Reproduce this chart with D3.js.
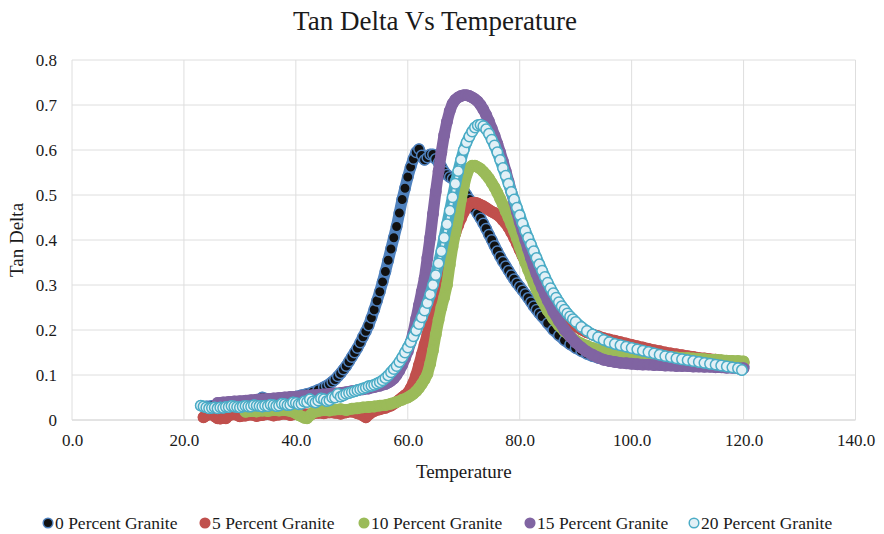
<!DOCTYPE html>
<html>
<head>
<meta charset="utf-8">
<script src="https://cdn.jsdelivr.net/npm/d3@7"></script>
<style>
  body { margin: 0; background: #fff; }
  text { font-family: "Liberation Serif", "Times New Roman", serif; fill: #1a1a1a; }
</style>
</head>
<body>
<div id="chart"></div>
<script>
// [temperature, tan delta]
const granite0 = [[24,0.030],[25,0.031],[26,0.030],[27,0.033],[28,0.034],[29,0.035],[30,0.036],[31,0.037],[32,0.039],[33,0.042],[34,0.050],[35,0.046],[36,0.045],[37,0.046],[38,0.048],[39,0.050],[40,0.052],[41,0.055],[42,0.058],[43,0.062],[44,0.067],[45,0.073],[45.5,0.076],[46,0.080],[46.5,0.085],[47,0.090],[47.5,0.097],[48,0.104],[48.5,0.112],[49,0.120],[49.5,0.130],[50,0.140],[50.5,0.150],[51,0.160],[51.5,0.172],[52,0.185],[52.5,0.197],[53,0.210],[53.5,0.227],[54,0.245],[54.5,0.265],[55,0.285],[55.5,0.307],[56,0.330],[56.5,0.355],[57,0.380],[57.5,0.405],[58,0.430],[58.5,0.460],[59,0.490],[59.5,0.515],[60,0.540],[60.5,0.562],[61,0.580],[61.5,0.595],[62,0.602],[62.5,0.588],[63,0.578],[63.5,0.583],[64,0.590],[64.5,0.590],[65,0.580],[65.5,0.572],[66,0.563],[66.5,0.552],[67,0.545],[67.5,0.540],[68,0.536],[68.5,0.530],[69,0.524],[69.5,0.518],[70,0.510],[70.5,0.500],[71,0.490],[71.5,0.479],[72,0.468],[72.5,0.458],[73,0.448],[73.5,0.437],[74,0.425],[74.5,0.412],[75,0.400],[75.5,0.387],[76,0.375],[76.5,0.363],[77,0.352],[77.5,0.342],[78,0.332],[78.5,0.322],[79,0.313],[79.5,0.304],[80,0.296],[80.5,0.288],[81,0.280],[81.5,0.271],[82,0.262],[82.5,0.253],[83,0.245],[83.5,0.237],[84,0.230],[85,0.215],[86,0.200],[87,0.188],[88,0.177],[89,0.168],[90,0.160],[91,0.153],[92,0.147],[93,0.142],[94,0.138],[95,0.135],[96,0.132],[97,0.131],[98,0.130],[99,0.129],[100,0.128],[102,0.126],[104,0.125],[106,0.124],[108,0.123],[110,0.122],[112,0.121],[114,0.120],[116,0.120],[118,0.119],[120,0.119]];

const granite5 = [[23.5,0.006],[24,0.010],[24.5,0.013],[25,0.014],[25.5,0.008],[26,0.004],[26.5,0.003],[27,0.005],[27.5,0.004],[28,0.010],[29,0.013],[30,0.008],[31,0.010],[32,0.012],[33,0.009],[34,0.011],[35,0.013],[36,0.010],[37,0.012],[38,0.014],[39,0.011],[40,0.013],[41,0.015],[42,0.012],[43,0.014],[44,0.016],[45,0.015],[46,0.017],[47,0.016],[48,0.014],[49,0.017],[50,0.019],[51,0.015],[52,0.010],[52.5,0.006],[53,0.012],[54,0.020],[55,0.024],[56,0.027],[57,0.032],[57.5,0.036],[58,0.040],[58.5,0.045],[59,0.050],[59.5,0.055],[60,0.060],[60.5,0.070],[61,0.083],[61.5,0.100],[62,0.122],[62.5,0.145],[63,0.168],[63.5,0.190],[64,0.215],[64.5,0.240],[65,0.265],[65.5,0.287],[66,0.310],[66.5,0.335],[67,0.357],[67.5,0.378],[68,0.397],[68.5,0.415],[69,0.433],[69.5,0.448],[70,0.462],[70.5,0.473],[71,0.480],[71.5,0.483],[72,0.483],[72.5,0.481],[73,0.478],[73.5,0.475],[74,0.471],[74.5,0.467],[75,0.463],[75.5,0.460],[76,0.456],[76.5,0.451],[77,0.444],[77.5,0.437],[78,0.428],[78.5,0.417],[79,0.405],[79.5,0.392],[80,0.378],[80.5,0.365],[81,0.352],[81.5,0.340],[82,0.328],[82.5,0.318],[83,0.308],[83.5,0.298],[84,0.289],[85,0.270],[86,0.253],[87,0.239],[88,0.227],[89,0.217],[90,0.208],[91,0.201],[92,0.195],[93,0.190],[94,0.186],[95,0.182],[96,0.179],[97,0.176],[98,0.173],[99,0.170],[100,0.167],[101,0.164],[102,0.161],[103,0.158],[104,0.155],[105,0.153],[106,0.150],[107,0.148],[108,0.146],[109,0.144],[110,0.142],[111,0.140],[112,0.138],[113,0.137],[114,0.135],[115,0.134],[116,0.132],[117,0.131],[118,0.130],[119,0.128],[120,0.127]];

const granite10 = [[31,0.018],[32,0.020],[33,0.019],[34,0.021],[35,0.020],[36,0.022],[37,0.021],[38,0.022],[39,0.020],[40,0.015],[40.5,0.011],[41,0.008],[41.5,0.005],[42,0.004],[42.5,0.010],[43,0.016],[44,0.020],[45,0.022],[46,0.021],[47,0.023],[48,0.024],[49,0.022],[50,0.025],[51,0.026],[52,0.028],[53,0.029],[54,0.030],[55,0.032],[56,0.033],[57,0.036],[58,0.040],[59,0.045],[60,0.050],[60.5,0.054],[61,0.058],[61.5,0.064],[62,0.071],[62.5,0.080],[63,0.090],[63.5,0.102],[64,0.125],[64.5,0.155],[65,0.190],[65.5,0.222],[66,0.250],[66.5,0.273],[67,0.300],[67.5,0.345],[68,0.385],[68.5,0.417],[69,0.450],[69.5,0.490],[70,0.520],[70.5,0.545],[71,0.560],[71.5,0.565],[72,0.565],[72.5,0.562],[73,0.558],[73.5,0.552],[74,0.545],[74.5,0.537],[75,0.527],[75.5,0.517],[76,0.505],[76.5,0.492],[77,0.478],[77.5,0.464],[78,0.450],[78.5,0.435],[79,0.420],[79.5,0.403],[80,0.385],[80.5,0.367],[81,0.350],[81.5,0.334],[82,0.318],[82.5,0.304],[83,0.290],[83.5,0.277],[84,0.265],[85,0.243],[86,0.225],[87,0.210],[88,0.197],[89,0.186],[90,0.177],[91,0.170],[92,0.165],[93,0.160],[94,0.157],[95,0.154],[96,0.152],[97,0.150],[98,0.149],[99,0.148],[100,0.147],[101,0.146],[102,0.145],[103,0.144],[104,0.143],[105,0.142],[106,0.141],[107,0.140],[108,0.139],[109,0.138],[110,0.138],[111,0.137],[112,0.136],[113,0.135],[114,0.134],[115,0.134],[116,0.133],[117,0.132],[118,0.131],[119,0.131],[120,0.130]];

const granite15 = [[26,0.038],[27,0.039],[28,0.040],[29,0.041],[30,0.042],[31,0.043],[32,0.044],[33,0.045],[34,0.046],[35,0.047],[36,0.048],[37,0.049],[38,0.050],[39,0.051],[40,0.052],[41,0.053],[42,0.054],[43,0.055],[44,0.056],[45,0.057],[46,0.058],[47,0.059],[48,0.060],[49,0.062],[50,0.064],[51,0.066],[52,0.068],[53,0.070],[54,0.073],[55,0.076],[56,0.080],[56.5,0.083],[57,0.087],[57.5,0.092],[58,0.100],[58.5,0.110],[59,0.122],[59.5,0.137],[60,0.153],[60.5,0.172],[61,0.195],[61.5,0.225],[62,0.255],[62.5,0.285],[63,0.315],[63.5,0.360],[64,0.405],[64.5,0.458],[65,0.508],[65.5,0.553],[66,0.595],[66.5,0.633],[67,0.663],[67.5,0.687],[68,0.703],[68.5,0.712],[69,0.717],[69.5,0.720],[70,0.722],[70.5,0.722],[71,0.720],[71.5,0.717],[72,0.713],[72.5,0.708],[73,0.700],[73.5,0.690],[74,0.678],[74.5,0.664],[75,0.648],[75.5,0.632],[76,0.614],[76.5,0.595],[77,0.575],[77.5,0.553],[78,0.530],[78.5,0.507],[79,0.485],[79.5,0.462],[80,0.440],[80.5,0.420],[81,0.400],[81.5,0.380],[82,0.360],[82.5,0.342],[83,0.325],[83.5,0.309],[84,0.294],[84.5,0.280],[85,0.266],[86,0.241],[87,0.220],[88,0.201],[89,0.186],[90,0.172],[91,0.161],[92,0.152],[93,0.145],[94,0.139],[95,0.134],[96,0.131],[97,0.129],[98,0.127],[99,0.126],[100,0.125],[101,0.124],[102,0.123],[103,0.123],[104,0.122],[105,0.122],[106,0.121],[107,0.121],[108,0.120],[109,0.120],[110,0.120],[111,0.119],[112,0.119],[113,0.118],[114,0.118],[115,0.117],[116,0.117],[117,0.116],[118,0.116],[119,0.115],[120,0.115]];

const granite20 = [[23,0.032],[23.5,0.030],[24,0.028],[24.5,0.026],[25,0.027],[25.5,0.028],[26,0.026],[26.5,0.028],[27,0.027],[27.5,0.029],[28,0.029],[28.5,0.031],[29,0.030],[29.5,0.029],[30,0.028],[30.5,0.030],[31,0.031],[31.5,0.030],[32,0.030],[32.5,0.033],[33,0.032],[33.5,0.031],[34,0.030],[34.5,0.032],[35,0.031],[35.5,0.034],[36,0.033],[36.5,0.031],[37,0.032],[37.5,0.036],[38,0.035],[38.5,0.033],[39,0.034],[39.5,0.039],[40,0.038],[40.5,0.035],[41,0.036],[41.5,0.041],[42,0.040],[42.5,0.046],[43,0.041],[43.5,0.039],[44,0.043],[44.5,0.048],[45,0.046],[45.5,0.042],[46,0.044],[46.5,0.050],[47,0.050],[47.5,0.058],[48,0.052],[48.5,0.055],[49,0.058],[49.5,0.060],[50,0.062],[50.5,0.064],[51,0.066],[51.5,0.068],[52,0.070],[52.5,0.072],[53,0.075],[53.5,0.076],[54,0.078],[54.5,0.081],[55,0.084],[55.5,0.088],[56,0.093],[56.5,0.099],[57,0.106],[57.5,0.113],[58,0.120],[58.5,0.129],[59,0.139],[59.5,0.150],[60,0.161],[60.5,0.173],[61,0.186],[61.5,0.199],[62,0.213],[62.5,0.228],[63,0.243],[63.5,0.260],[64,0.279],[64.5,0.300],[65,0.322],[65.5,0.348],[66,0.375],[66.5,0.405],[67,0.435],[67.5,0.465],[68,0.495],[68.5,0.525],[69,0.553],[69.5,0.578],[70,0.600],[70.5,0.617],[71,0.630],[71.5,0.641],[72,0.650],[72.5,0.655],[73,0.656],[73.5,0.653],[74,0.646],[74.5,0.636],[75,0.623],[75.5,0.610],[76,0.595],[76.5,0.578],[77,0.560],[77.5,0.543],[78,0.525],[78.5,0.507],[79,0.490],[79.5,0.472],[80,0.455],[80.5,0.437],[81,0.420],[81.5,0.405],[82,0.390],[82.5,0.375],[83,0.360],[83.5,0.346],[84,0.332],[84.5,0.318],[85,0.305],[85.5,0.293],[86,0.282],[86.5,0.272],[87,0.262],[87.5,0.253],[88,0.245],[88.5,0.237],[89,0.230],[89.5,0.224],[90,0.218],[91,0.207],[92,0.198],[93,0.190],[94,0.184],[95,0.178],[96,0.173],[97,0.169],[98,0.166],[99,0.163],[100,0.160],[101,0.157],[102,0.154],[103,0.151],[104,0.148],[105,0.145],[106,0.142],[107,0.140],[108,0.137],[109,0.135],[110,0.133],[111,0.131],[112,0.129],[113,0.127],[114,0.125],[115,0.123],[116,0.121],[117,0.119],[118,0.117],[119,0.115],[119.7,0.111]];

const seriesNames = ["0 Percent Granite", "5 Percent Granite", "10 Percent Granite", "15 Percent Granite", "20 Percent Granite"];
const xTicks = [0, 20, 40, 60, 80, 100, 120, 140];
const yTicks = [0, 0.1, 0.2, 0.3, 0.4, 0.5, 0.6, 0.7, 0.8];

const width = 884;
const height = 534;
const margin = { top: 60, right: 28.5, bottom: 114, left: 72 };
const markerR = 5.2;

// marker look per series (fill, outline)
const styles = [
  { fill: "#111111", stroke: "#4f81bd" },
  { fill: "#c0504d", stroke: "#c0504d" },
  { fill: "#9bbb59", stroke: "#9bbb59" },
  { fill: "#8064a2", stroke: "#8064a2" },
  { fill: "#e2f0f6", stroke: "#4bacc6" }
];
const allData = [granite0, granite5, granite10, granite15, granite20];

const svg = d3.select("#chart")
  .append("svg")
  .attr("width", width)
  .attr("height", height);

const x = d3.scaleLinear()
  .domain([0, 140])
  .range([margin.left, width - margin.right]);

const y = d3.scaleLinear()
  .domain([0, 0.8])
  .range([height - margin.bottom, margin.top]);

// gridlines
svg.append("g")
  .selectAll("line")
  .data(yTicks)
  .join("line")
    .attr("x1", margin.left)
    .attr("x2", width - margin.right)
    .attr("y1", d => y(d))
    .attr("y2", d => y(d))
    .attr("stroke", d => d === 0 ? "#c8c8c8" : "#dedede")
    .attr("stroke-width", 1);

svg.append("g")
  .selectAll("line")
  .data(xTicks)
  .join("line")
    .attr("x1", d => x(d))
    .attr("x2", d => x(d))
    .attr("y1", margin.top)
    .attr("y2", height - margin.bottom)
    .attr("stroke", "#dedede")
    .attr("stroke-width", 1);

// axes (labels only)
function yAxis(g) {
  g.attr("transform", `translate(${margin.left},0)`)
    .call(d3.axisLeft(y).tickValues(yTicks).tickSize(0).tickPadding(15)
      .tickFormat(d => d === 0 ? "0" : d3.format(".1f")(d)))
    .call(g => g.select(".domain").remove());
  g.selectAll("text").attr("font-size", "17px").attr("fill", null);
}

function xAxis(g) {
  g.attr("transform", `translate(0,${height - margin.bottom})`)
    .call(d3.axisBottom(x).tickValues(xTicks).tickSize(0).tickPadding(14)
      .tickFormat(d3.format(".1f")))
    .call(g => g.select(".domain").remove());
  g.selectAll("text").attr("font-size", "17px").attr("fill", null);
}

svg.append("g").call(xAxis).attr("font-family", null);
svg.append("g").call(yAxis).attr("font-family", null);

// series: a thick trace under the markers keeps the rope look where points are far apart
const line = d3.line()
  .x(d => x(d[0]))
  .y(d => y(d[1]));

const plot = svg.append("g");

allData.forEach((data, i) => {
  const st = styles[i];
  const g = plot.append("g");
  g.append("path")
    .datum(data)
    .attr("d", line)
    .attr("fill", "none")
    .attr("stroke", st.stroke)
    .attr("stroke-width", markerR * 2 + 1)
    .attr("stroke-linejoin", "round")
    .attr("stroke-linecap", "round");
  if (i === 4) {
    g.append("path")
      .datum(data)
      .attr("d", line)
      .attr("fill", "none")
      .attr("stroke", st.fill)
      .attr("stroke-width", 3)
      .attr("stroke-linejoin", "round");
  }
  g.selectAll("circle")
    .data(data)
    .join("circle")
      .attr("cx", d => x(d[0]))
      .attr("cy", d => y(d[1]))
      .attr("r", markerR)
      .attr("fill", st.fill)
      .attr("stroke", st.stroke)
      .attr("stroke-width", 1.5);
});

// title
svg.append("text")
  .attr("x", 435)
  .attr("y", 30)
  .attr("text-anchor", "middle")
  .attr("font-size", "27px")
  .text("Tan Delta Vs Temperature");

// axis titles
svg.append("text")
  .attr("x", (margin.left + width - margin.right) / 2)
  .attr("y", 478)
  .attr("text-anchor", "middle")
  .attr("font-size", "19px")
  .text("Temperature");

svg.append("text")
  .attr("transform", `translate(23,${(margin.top + height - margin.bottom) / 2}) rotate(-90)`)
  .attr("text-anchor", "middle")
  .attr("font-size", "19px")
  .text("Tan Delta");

// legend
const legendX = [48, 205, 364, 530, 694];
const legend = svg.append("g")
  .selectAll("g")
  .data(seriesNames)
  .join("g")
    .attr("transform", (d, i) => `translate(${legendX[i]},523)`);

legend.append("circle")
  .attr("r", 4.8)
  .attr("fill", (d, i) => styles[i].fill)
  .attr("stroke", (d, i) => styles[i].stroke)
  .attr("stroke-width", 1.5);

legend.append("text")
  .attr("x", 7)
  .attr("dy", "0.33em")
  .attr("font-size", "17.5px")
  .text(d => d);
</script>
</body>
</html>
